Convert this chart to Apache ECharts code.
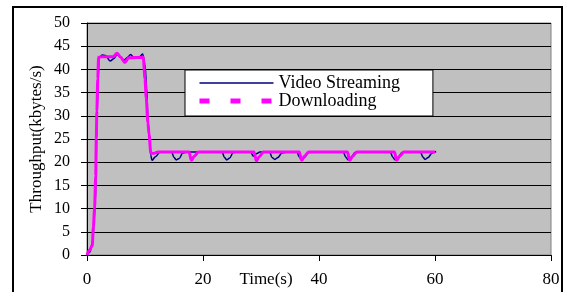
<!DOCTYPE html>
<html>
<head>
<meta charset="utf-8">
<script src="https://cdn.jsdelivr.net/npm/echarts/dist/echarts.min.js"></script>
<style>
  html, body { margin: 0; padding: 0; background: #fff; }
  #chart { width: 565px; height: 292px; }
</style>
</head>
<body>
<div id="chart"></div>
<script>
// values
const videoTime = [0, 0.5, 1.0, 1.2, 1.4, 1.55, 1.65, 1.75, 1.9, 2.1, 2.6, 3.2, 4.0, 4.6, 5.2, 5.8, 6.4, 7.0, 7.5, 8.2, 8.9, 9.6,
  10.0, 10.3, 10.5, 10.8, 11.0, 11.2, 11.8, 12.6, 14.6, 15.0, 15.4, 15.9, 16.5, 17.2, 23.3, 23.7, 24.1, 24.6, 25.2, 26,
  28.2, 28.7, 29.2, 29.8, 31.5, 31.9, 32.4, 32.9, 33.6, 34.5, 36.2, 36.6, 37.0, 37.5, 38.2, 39,
  44.2, 44.6, 45.0, 45.5, 46.2, 47, 52.3, 52.7, 53.1, 53.6, 54.3, 55, 57.5, 57.9, 58.3, 58.8, 59.5, 60.2]
const videoRate = [0, 0.6, 3, 7, 11, 16, 25, 31, 38, 42.5, 43.1, 43.0, 41.8, 42.3, 43.2, 42.6, 42.0, 42.6, 43.2, 42.4, 42.5, 43.3,
  41, 36, 29, 24.5, 21.5, 20.4, 21.2, 22.2, 22.2, 21.0, 20.5, 20.8, 22.0, 22.2, 22.2, 21.0, 20.5, 20.9, 22.1, 22.2,
  22.2, 21.3, 21.8, 22.2, 22.2, 21.0, 20.6, 21.0, 22.0, 22.2, 22.2, 21.1, 20.5, 21.0, 22.1, 22.2,
  22.2, 21.1, 20.5, 21.0, 22.1, 22.2, 22.2, 21.1, 20.5, 21.0, 22.1, 22.2, 22.2, 21.1, 20.6, 21.0, 22.0, 22.3]

const downTime = [0, 0.4, 0.9, 1.1, 1.3, 1.5, 1.6, 1.7, 1.85, 2.0, 2.5, 4.5, 5.2, 5.8, 6.5, 7.2, 9.7,
  10.0, 10.2, 10.5, 10.7, 11.0, 11.5, 12.3, 17.6, 18.0, 18.5, 19.2, 28.8, 29.2, 29.7, 30.4,
  36.6, 37.0, 37.5, 38.2, 44.9, 45.3, 45.8, 46.5, 53.0, 53.4, 53.9, 54.6, 60.0]
const downRate = [0, 1, 2, 6, 10, 17, 25, 31, 38, 42.6, 42.7, 42.7, 43.5, 42.6, 41.5, 42.5, 42.6,
  38, 34, 28.5, 26, 22, 21.9, 22.2, 22.2, 20.4, 21.3, 22.2, 22.2, 20.3, 21.2, 22.2,
  22.2, 20.4, 21.3, 22.2, 22.2, 20.4, 21.3, 22.2, 22.2, 20.4, 21.3, 22.2, 22.2]

const seriesNames = ['Video Streaming', 'Downloading']
const serif = '"Liberation Serif", "Times New Roman", serif'

const chart = echarts.init(document.getElementById('chart'))
chart.setOption({
  animation: false,
  backgroundColor: '#fff',
  grid: {
    left: 87,
    right: 14,
    top: 23,
    bottom: 37,
    outerBoundsMode: 'none',
    containLabel: false,
    show: true,
    backgroundColor: '#c0c0c0',
    borderColor: '#808080',
    borderWidth: 1
  },
  graphic: [{
    type: 'rect',
    shape: { x: 13, y: 7, width: 549, height: 300 },
    style: { fill: 'none', stroke: '#000', lineWidth: 2 },
    silent: true
  }],
  legend: {
    show: true,
    orient: 'vertical',
    left: 185,
    top: 70,
    padding: [4, 33, 6, 12],
    itemGap: 0,
    itemWidth: 74,
    itemHeight: 14,
    backgroundColor: '#fff',
    borderColor: '#000',
    borderWidth: 1,
    textStyle: { fontFamily: serif, fontSize: 18, color: '#000', lineHeight: 16 },
    data: [
      { name: seriesNames[0], itemStyle: { opacity: 0 }, lineStyle: { color: '#000080', width: 1.5 } },
      { name: seriesNames[1], itemStyle: { opacity: 0 }, lineStyle: { color: '#ff00ff', width: 5, type: [10, 21] } }
    ]
  },
  xAxis: {
    type: 'value',
    min: 0,
    max: 80,
    interval: 20,
    name: 'Time(s)',
    nameLocation: 'middle',
    nameGap: 16,
    nameMoveOverlap: false,
    nameTextStyle: { fontFamily: serif, fontSize: 17, color: '#000', verticalAlign: 'top', padding: [0, 106, 0, 0] },
    axisLine: { lineStyle: { color: '#000', width: 1 } },
    axisTick: { show: true, length: 6, lineStyle: { color: '#000' } },
    axisLabel: { fontFamily: serif, fontSize: 17, color: '#000', margin: 16, showMinLabel: true, showMaxLabel: true },
    splitLine: { show: false }
  },
  yAxis: {
    type: 'value',
    min: 0,
    max: 50,
    interval: 5,
    name: 'Throughput(kbytes/s)',
    nameLocation: 'middle',
    nameGap: 42,
    nameMoveOverlap: false,
    nameTextStyle: { fontFamily: serif, fontSize: 17, color: '#000' },
    axisLine: { show: true, lineStyle: { color: '#000', width: 1 } },
    axisTick: { show: true, length: 6, lineStyle: { color: '#000' } },
    axisLabel: { fontFamily: serif, fontSize: 16, color: '#000', margin: 17, showMinLabel: true, showMaxLabel: true },
    splitLine: { show: true, lineStyle: { color: '#000', width: 1 } }
  },
  series: [
    {
      name: seriesNames[0],
      type: 'line',
      symbol: 'none',
      smooth: 0.3,
      smoothMonotone: 'x',
      data: videoTime.map((t, i) => [t, videoRate[i]]),
      lineStyle: { color: '#000080', width: 1.5 },
      itemStyle: { color: '#000080' },
      z: 2
    },
    {
      name: seriesNames[1],
      type: 'line',
      symbol: 'none',
      smooth: 0.3,
      smoothMonotone: 'x',
      data: downTime.map((t, i) => [t, downRate[i]]),
      lineStyle: { color: '#ff00ff', width: 3 },
      itemStyle: { color: '#ff00ff' },
      z: 3
    }
  ]
})
</script>
</body>
</html>
